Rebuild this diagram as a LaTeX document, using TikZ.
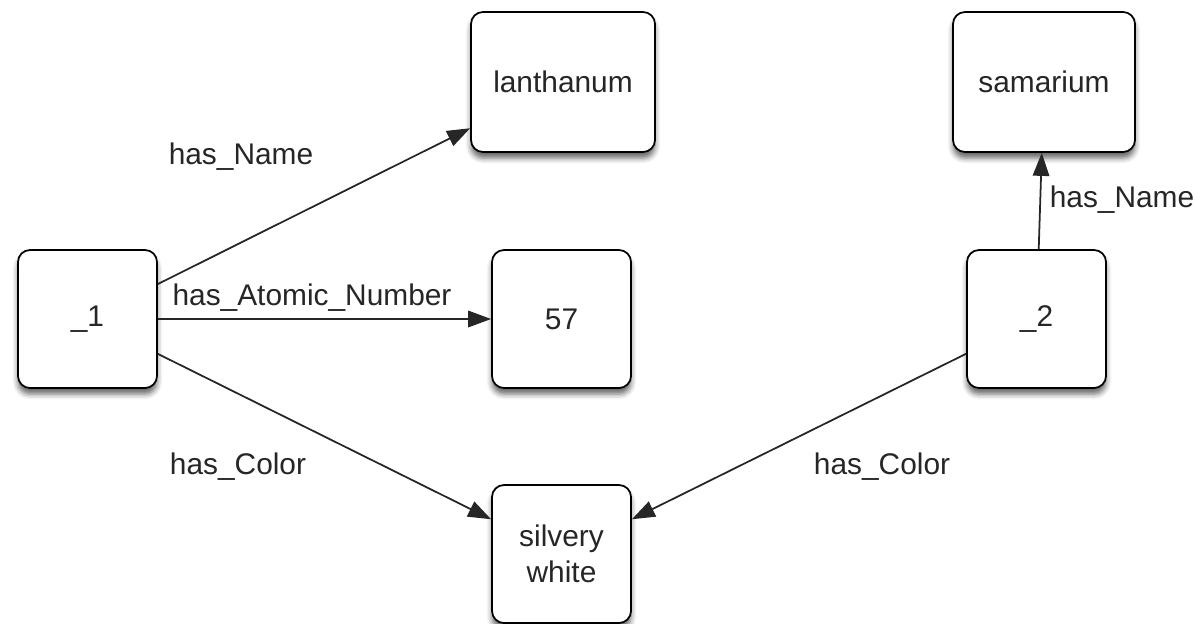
\documentclass[tikz,border=0pt]{standalone}
\usepackage{fontspec}
\setmainfont{Liberation Sans}
\usetikzlibrary{arrows.meta,shadows.blur}
\begin{document}
\begin{tikzpicture}[font=\fontsize{17}{20.5}\selectfont, text=black!85]
	\tikzset{res/.style={draw, fill=white, rounded corners=0.24cm, line width=1pt, minimum width=2.78cm, minimum height=2.76cm, align=center, blur shadow={shadow xshift=0pt, shadow yshift=-3.5pt, shadow blur radius=3pt, shadow opacity=60}}}
	\tikzset{rel/.style={-{Triangle[length=0.46cm, width=0.33cm]}, line width=1pt, black!85}}
	\useasboundingbox (0,0) rectangle (24,12.46);
	\node [res, minimum width=3.68cm, minimum height=2.8cm] (lan) at (11.26, 10.82) {lanthanum};
	\node [res, minimum width=3.64cm, minimum height=2.8cm] (sam) at (20.88, 10.82) {samarium};
	\node [res] (one) at (1.75, 6.08) {\_1};
	\node [res] (num) at (11.23, 6.08) {57};
	\node [res] (two) at (20.73, 6.08) {\_2};
	\node [res] (col) at (11.23, 1.38) {silvery\\white};
	\draw [rel] (one) -- (lan);
	\draw [rel] (one) -- (num);
	\draw [rel] (one) -- (col);
	\draw [rel] (two) -- (sam);
	\draw [rel] (two) -- (col);
	\node (lname) at (4.82, 9.32) {has\_Name};
	\node (lnum) at (6.24, 6.50) {has\_Atomic\_Number};
	\node (lcol) at (4.76, 3.12) {has\_Color};
	\node (rcol) at (17.64, 3.12) {has\_Color};
	\node (rname) at (22.44, 8.46) {has\_Name};
\end{tikzpicture}
\end{document}
